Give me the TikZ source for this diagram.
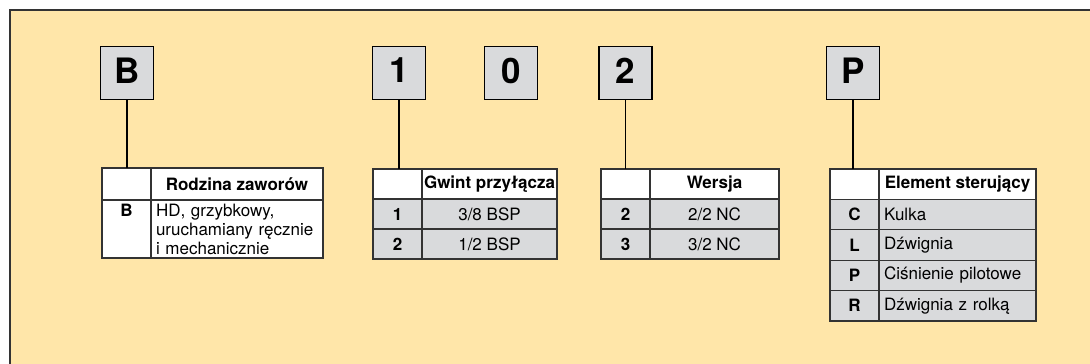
\documentclass[tikz,border=0pt]{standalone}
\usepackage{fontspec}
\setmainfont{TeX Gyre Heros}
\usepackage{tikz}
\usetikzlibrary{positioning}

\definecolor{panelbg}{RGB}{255,230,169}
\definecolor{cellgray}{RGB}{217,218,220}
\definecolor{rulegray}{RGB}{51,51,51}

\begin{document}
\begin{tikzpicture}[
        x=1pt, y=-1pt,
        node distance=0pt,
        letter/.style={rectangle, draw=black, line width=1.8pt, fill=cellgray, minimum size=53pt, inner sep=0pt, text depth=5pt, font=\fontsize{35}{35}\selectfont\bfseries},
        cell/.style={rectangle, draw=rulegray, line width=1.1pt, outer sep=0pt, inner sep=0pt, minimum height=30pt, font=\fontsize{17}{19}\selectfont},
        key/.style={cell, minimum width=49pt, font=\fontsize{17}{19}\selectfont\bfseries},
        head/.style={cell, fill=white, font=\fontsize{17}{19}\selectfont\bfseries},
        entry/.style={cell, fill=cellgray},
        lefttext/.style={text width=#1, align=left, inner xsep=5pt},
        stem/.style={line width=1.4pt, draw=black}
    ]
        \useasboundingbox (0,0) rectangle (1090,364);
        \clip (0,0) rectangle (1090,364);

        % Panel
        \draw [fill=panelbg, draw=rulegray, line width=1.4pt] (10,10) rectangle (1110,380);

        % Code letters
        \node (boxB) [letter] at (127,73) {B};
        \node (box1) [letter] at (399,73) {1};
        \node (box0) [letter] at (511,73) {0};
        \node (box2) [letter] at (625.5,73) {2};
        \node (boxP) [letter] at (853,73) {P};

        % Rodzina zaworow
        \node (keyB) [key, fill=white, minimum height=32pt, anchor=north west] at (102,168) {};
        \node (headB) [head, minimum width=172pt, minimum height=32pt, right=of keyB] {Rodzina zaworów};
        \node (codeB) [key, fill=white, minimum height=58pt, align=center, below=of keyB] {B\\\phantom{B}\\\phantom{B}};
        \node (descB) [cell, fill=white, minimum height=58pt, lefttext=162pt, below=of headB] {HD, grzybkowy,\\uruchamiany ręcznie\\i mechanicznie};

        % Gwint przylacza
        \node (key1) [key, fill=white, anchor=north west] at (373,169) {};
        \node (head1) [head, minimum width=135pt, right=of key1] {Gwint przyłącza};
        \node (code1a) [key, fill=cellgray, below=of key1] {1};
        \node (val1a) [entry, minimum width=135pt, below=of head1] {3/8 BSP};
        \node (code1b) [key, fill=cellgray, below=of code1a] {2};
        \node (val1b) [entry, minimum width=135pt, below=of val1a] {1/2 BSP};

        % Wersja
        \node (key2) [key, fill=white, anchor=north west] at (601,169) {};
        \node (head2) [head, minimum width=129pt, right=of key2] {Wersja};
        \node (code2a) [key, fill=cellgray, below=of key2] {2};
        \node (val2a) [entry, minimum width=129pt, below=of head2] {2/2 NC};
        \node (code2b) [key, fill=cellgray, below=of code2a] {3};
        \node (val2b) [entry, minimum width=129pt, below=of val2a] {3/2 NC};

        % Element sterujacy
        \node (keyP) [key, fill=white, minimum height=30.4pt, anchor=north west] at (830,169) {};
        \node (headP) [head, minimum width=157pt, minimum height=30.4pt, right=of keyP] {Element sterujący};
        \node (codePa) [key, fill=cellgray, minimum height=30.4pt, below=of keyP] {C};
        \node (valPa) [entry, minimum height=30.4pt, lefttext=147pt, below=of headP] {Kulka};
        \node (codePb) [key, fill=cellgray, minimum height=30.4pt, below=of codePa] {L};
        \node (valPb) [entry, minimum height=30.4pt, lefttext=147pt, below=of valPa] {Dźwignia};
        \node (codePc) [key, fill=cellgray, minimum height=30.4pt, below=of codePb] {P};
        \node (valPc) [entry, minimum height=30.4pt, lefttext=147pt, below=of valPb] {Ciśnienie pilotowe};
        \node (codePd) [key, fill=cellgray, minimum height=30.4pt, below=of codePc] {R};
        \node (valPd) [entry, minimum height=30.4pt, lefttext=147pt, below=of valPc] {Dźwignia z rolką};

        % Stems
        \draw [stem] (boxB.south) -- (boxB.south |- keyB.north);
        \draw [stem] (box1.south) -- (box1.south |- key1.north);
        \draw [stem] (box2.south) -- (box2.south |- key2.north);
        \draw [stem] (boxP.south) -- (boxP.south |- keyP.north);
    \end{tikzpicture}
\end{document}
